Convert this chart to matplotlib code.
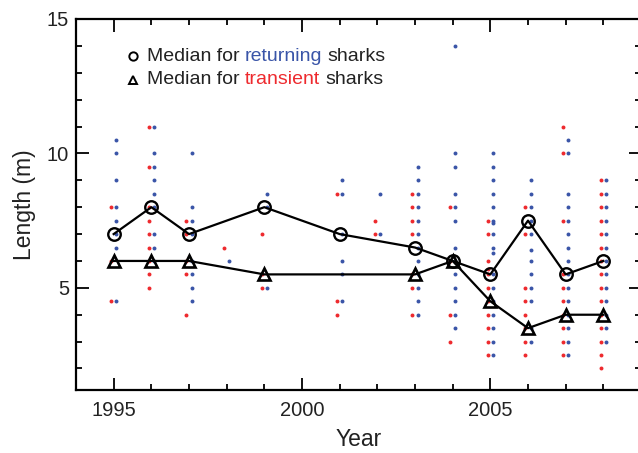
import matplotlib
matplotlib.use("Agg")
import matplotlib.pyplot as plt
from matplotlib.ticker import MultipleLocator

plt.rcParams['font.family'] = ['Liberation Sans', 'DejaVu Sans']

# ---------------- data ----------------
years = [1995, 1996, 1997, 1998, 1999, 2001, 2002, 2003, 2004, 2005, 2006, 2007, 2008]

returning_lengths = [
    [10.5, 10, 9, 8, 7.5, 7, 6.5, 4.5],
    [11, 10, 9.5, 9, 8.5, 8, 7, 6.5, 6],
    [10, 8, 7.5, 7, 6, 5.5, 5, 4.5],
    [6],
    [8.5, 8, 5],
    [9, 8.5, 7, 6, 5.5, 4.5],
    [8.5, 7],
    [9.5, 9, 8.5, 8, 7.5, 7, 6.5, 6, 5.5, 5, 4.5, 4],
    [14, 10, 9.5, 8.5, 8, 7.5, 6.5, 6, 5.5, 5, 4.5, 4, 3.5],
    [10, 9.5, 9, 8.5, 8, 7.5, 7.4, 7, 6.5, 6.3, 5.5, 5, 4.5, 4, 3.5, 3, 2.5],
    [9, 8.5, 8, 7.5, 7, 6.4, 6, 5.5, 5, 4.5, 3.5, 3],
    [10.5, 10, 8.5, 8, 7.5, 7, 6.5, 6, 5.5, 5, 4.5, 4, 3.5, 3, 2.5],
    [9, 8.5, 8, 7.5, 7, 6.5, 6, 5.5, 5, 4.5, 4, 3.5, 3],
]

transient_lengths = [
    [8, 6, 4.5],
    [11, 9.5, 8, 7.5, 7, 6.5, 6, 5.5, 5],
    [7.5, 7, 6, 5.5, 4],
    [6.5],
    [7, 5.5, 5],
    [8.5, 4.5, 4],
    [7.5, 7],
    [8.5, 8, 7.5, 7, 5.5, 5, 4],
    [8, 6, 4, 3],
    [7.5, 7, 6, 5.7, 5.5, 5, 4.5, 4, 3.5, 3, 2.5],
    [8, 7, 5, 4.5, 4, 3.5, 3, 2.5],
    [11, 10, 7.5, 5.5, 5, 4.5, 4, 3.5, 3, 2.5],
    [9, 8.5, 8, 7.5, 7, 6.5, 6, 5.5, 5, 4.5, 4, 3.5, 3, 2.5, 2],
]

returning_median_years = [1995, 1996, 1997, 1999, 2001, 2003, 2004, 2005, 2006, 2007, 2008]
returning_median = [7, 8, 7, 8, 7, 6.5, 6, 5.5, 7.5, 5.5, 6]

transient_median_years = [1995, 1996, 1997, 1999, 2003, 2004, 2005, 2006, 2007, 2008]
transient_median = [6, 6, 6, 5.5, 5.5, 6, 4.5, 3.5, 4, 4]

BLUE = '#3a55a8'
RED = '#ee2a2e'

# ---------------- figure ----------------
fig = plt.figure(figsize=(6.38, 4.53), dpi=100)
W, H = 638, 453
left, right, top, bottom = 76, 641, 19, 390
ax = fig.add_axes([left / W, 1 - bottom / H, (right - left) / W, (bottom - top) / H])

off = 0.075
for yr, rl, tl in zip(years, returning_lengths, transient_lengths):
    ax.scatter([yr - off] * len(tl), tl, s=8, color=RED, linewidths=0, zorder=2)
    ax.scatter([yr + off] * len(rl), rl, s=8, color=BLUE, linewidths=0, zorder=2)

ax.plot(returning_median_years, returning_median, color='black', lw=1.6,
        marker='o', markersize=9, markerfacecolor='none', markeredgewidth=1.7, zorder=3)
ax.plot(transient_median_years, transient_median, color='black', lw=1.6,
        marker='^', markersize=8, markerfacecolor='none', markeredgewidth=1.9, zorder=3)

ax.set_xlim(1994, 2009)
ax.set_ylim(1.2, 15)
ax.xaxis.set_major_locator(MultipleLocator(5))
ax.xaxis.set_minor_locator(MultipleLocator(1))
ax.yaxis.set_major_locator(MultipleLocator(5))
ax.yaxis.set_minor_locator(MultipleLocator(1))
ax.tick_params(which='both', direction='in', top=True, right=True,
               labelsize=14.5, labelcolor='#222222', width=1.3)
ax.tick_params(which='major', length=9)
ax.tick_params(which='minor', length=4.5)
ax.tick_params(axis='x', pad=8)
ax.tick_params(axis='y', pad=5)
for sp in ax.spines.values():
    sp.set_linewidth(1.6)

ax.set_xlabel('Year', fontsize=16.5, color='#222222', labelpad=6)
ax.set_ylabel('Length (m)', fontsize=16.5, color='#222222', labelpad=8)

# ---------------- legend (multi-coloured text) ----------------
lx, ly1, ly2 = 0.101, 0.900, 0.836
ax.plot([lx], [ly1], transform=ax.transAxes, marker='o', markersize=6,
        markerfacecolor='none', markeredgecolor='black', markeredgewidth=1.4, clip_on=False)
ax.plot([lx], [ly2], transform=ax.transAxes, marker='^', markersize=5.5,
        markerfacecolor='none', markeredgecolor='black', markeredgewidth=1.4, clip_on=False)

fs = 14
sp_w = 3.6
def colored_line(y, parts):
    t = ax.text(lx + 0.025, y, parts[0][0], color=parts[0][1], fontsize=fs,
                transform=ax.transAxes, va='center', ha='left')
    for txt, col in parts[1:]:
        t = ax.annotate(txt, xy=(1, 0), xycoords=t, xytext=(sp_w, 0),
                        textcoords='offset points', va='bottom', ha='left',
                        color=col, fontsize=fs)

colored_line(ly1, [('Median for', '#222222'), ('returning', BLUE), ('sharks', '#222222')])
colored_line(ly2, [('Median for', '#222222'), ('transient', RED), ('sharks', '#222222')])

fig.savefig('out.png', dpi=100)
